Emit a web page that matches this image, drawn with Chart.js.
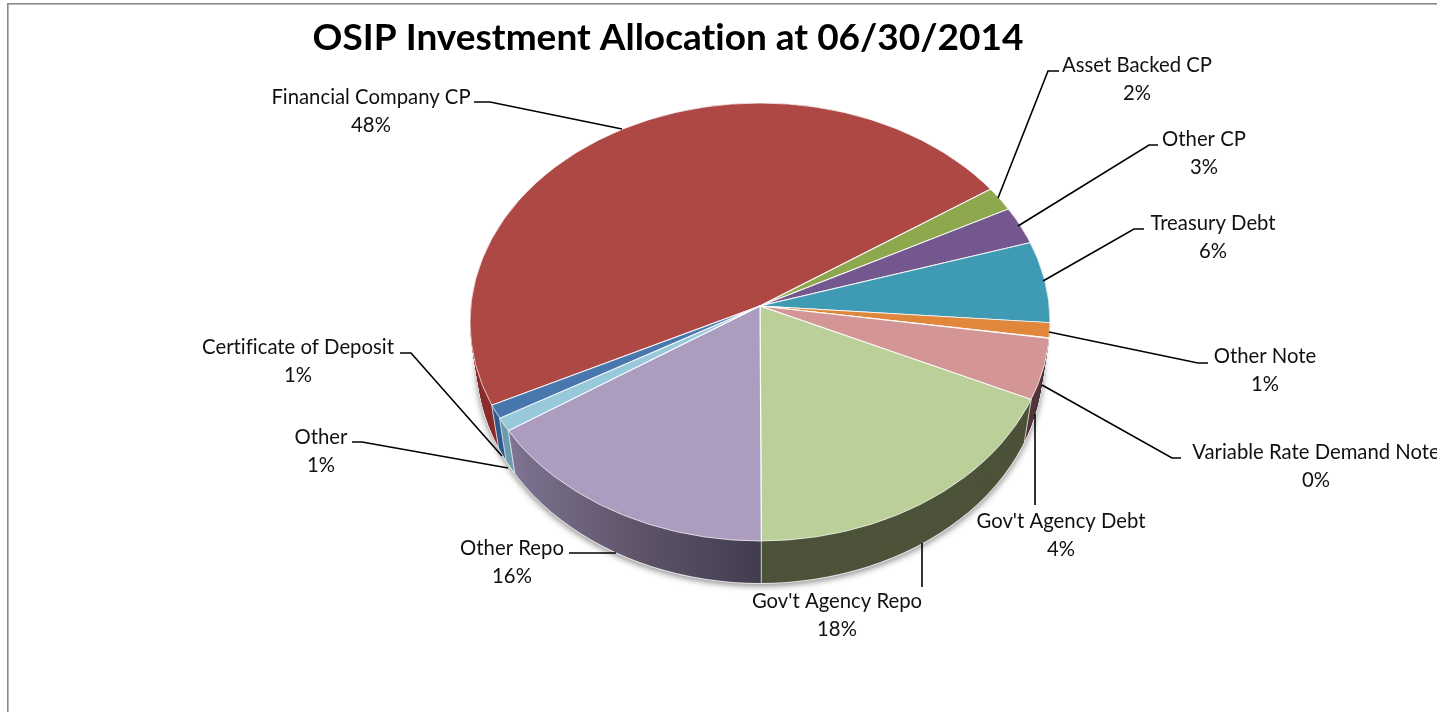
<!DOCTYPE html>
<html>
<head>
<meta charset="utf-8">
<style>html,body{margin:0;padding:0;background:#fff;overflow:hidden}canvas{display:block}</style>
<script src="https://cdn.jsdelivr.net/npm/chart.js@4"></script>
</head>
<body>
<canvas id="c" width="1437" height="712"></canvas>
<script>
const chartTitle = 'OSIP Investment Allocation at 06/30/2014';
const categories = ['Financial Company CP','Asset Backed CP','Other CP','Treasury Debt','Other Note','Variable Rate Demand Note',"Gov't Agency Debt","Gov't Agency Repo",'Other Repo','Other','Certificate of Deposit'];
const shares = [47.8,1.8,2.8,6.0,1.1,0.03,4.47,18.1,15.8,1.0,1.0];

const topColors = ['#ad4845','#8ea84e','#74578e','#3f9ab3','#e0873b','#d39595','#d39595','#bbcf98','#ac9cc0','#97c9da','#4877ae'];
const wallColors = ['#8b2e2d','#5a6b30','#48355a','#1f5565','#7a4a1f','#52373a','#52373a','#4d533a','#5a5068','#6d9dae','#2f5b8f'];

// Layout of the tilted pie on the page
const APEX = {x:760,y:306}, FACE = {x:760,y:322,rx:290,ry:219}, TILT = 219/290, DEPTH = 42, TAPER = 0.025;
// Label anchors and leader lines, same order as categories
const labelPlace = [[371,97],[1137,65],[1204,139],[1213,223],[1265,356],[1316,452],[1061,521],[837,601],[512,548],[321,437],[298,347]];
const leaders = [
  [[474,102],[490,102],[622,129]],
  [[1059,71],[1048,71],[998,198]],
  [[1158,145],[1149,145],[1018,226]],
  [[1144,229],[1134,229],[1043,281]],
  [[1049,332],[1198,363],[1208,363]],
  [[1042,385],[1172,458],[1181,458]],
  [[1035,414],[1035,505]],
  [[922,543],[922,587]],
  [[569,553],[616,553]],
  [[352,442],[362,442],[508,468]],
  [[400,353],[411,353],[502,456]]
];
const FONT = 'Lato, Carlito, sans-serif';

function drawArcs(chart, ctx, k, fills) {
  const meta = chart.getDatasetMeta(0);
  const f = k / DEPTH, sx = 1 - TAPER * f;
  ctx.save();
  ctx.beginPath();
  ctx.ellipse(FACE.x, FACE.y + k, FACE.rx * sx, FACE.ry, 0, 0, Math.PI * 2);
  ctx.clip();
  meta.data.forEach((arc, i) => {
    ctx.save();
    ctx.translate(APEX.x, APEX.y + k);
    ctx.scale(sx, TILT);
    ctx.translate(-arc.x, -arc.y);
    const saved = arc.options;
    const o = Object.create(saved);
    Object.defineProperty(o, 'backgroundColor', {value: fills(i, arc)});
    Object.defineProperty(o, 'borderWidth', {value: k ? 0 : 1.2});
    Object.defineProperty(o, 'borderColor', {value: 'rgba(255,255,255,0.9)'});
    arc.options = o;
    arc.draw(ctx);
    arc.options = saved;
    ctx.restore();
  });
  ctx.restore();
}

function edgePoint(a) {
  const dx = Math.cos(a), dy = Math.sin(a) * TILT, off = APEX.y - FACE.y;
  const A = dx*dx/(FACE.rx*FACE.rx) + dy*dy/(FACE.ry*FACE.ry);
  const B = 2*dy*off/(FACE.ry*FACE.ry);
  const C = off*off/(FACE.ry*FACE.ry) - 1;
  const t = (-B + Math.sqrt(B*B - 4*A*C)) / (2*A);
  return {x: APEX.x + dx*t, y: APEX.y + dy*t};
}

const piePlugin = {
  id: 'tiltedPie',
  afterLayout(chart) {
    chart.titleBlock.left = 0;
    chart.titleBlock.right = 1336;
  },
  beforeDraw(chart) {
    const ctx = chart.ctx;
    ctx.letterSpacing = '0.01px';
    ctx.save();
    ctx.fillStyle = '#fff';
    ctx.fillRect(0, 0, chart.width, chart.height);
    ctx.fillStyle = '#8a8a8a';
    ctx.fillRect(7, 3, 1.6, chart.height);
    ctx.fillRect(7, 3, chart.width, 1.6);
    ctx.restore();
  },
  beforeDatasetsDraw(chart) {
    const ctx = chart.ctx;
    const meta = chart.getDatasetMeta(0);
    // soft shadow under the pie
    ctx.save();
    ctx.shadowColor = 'rgba(0,0,0,0.45)';
    ctx.shadowBlur = 6;
    ctx.shadowOffsetY = 2;
    ctx.fillStyle = '#e4e4e4';
    ctx.beginPath();
    ctx.ellipse(FACE.x, FACE.y + DEPTH, FACE.rx * (1 - TAPER) + 1, FACE.ry + 1, 0, 0, Math.PI * 2);
    ctx.fill();
    ctx.restore();
    // side wall
    const wallFill = i => {
      if (categories[i] !== 'Other Repo') return wallColors[i];
      const a = meta.data[i];
      const lg = ctx.createLinearGradient(a.x - 250, 0, a.x, 0);
      lg.addColorStop(0, '#7e7390');
      lg.addColorStop(0.5, '#5f5469');
      lg.addColorStop(1, '#423c4e');
      return lg;
    };
    for (let k = DEPTH; k >= 1; k--) drawArcs(chart, ctx, k, wallFill);
    // seams between wall segments
    ctx.save();
    ctx.strokeStyle = 'rgba(255,255,255,0.75)';
    ctx.lineWidth = 1;
    meta.data.forEach(arc => {
      const p = edgePoint(arc.startAngle);
      if (Math.sin(arc.startAngle) < 0.35) return;
      ctx.beginPath();
      ctx.moveTo(p.x, p.y);
      ctx.lineTo(FACE.x + (p.x - FACE.x) * (1 - TAPER), p.y + DEPTH);
      ctx.stroke();
    });
    ctx.restore();
    // top face
    drawArcs(chart, ctx, 0, i => topColors[i]);
    ctx.save();
    ctx.strokeStyle = 'rgba(255,255,255,0.7)';
    ctx.lineWidth = 1;
    ctx.beginPath();
    ctx.ellipse(FACE.x, FACE.y, FACE.rx, FACE.ry, 0, 0, Math.PI * 2);
    ctx.stroke();
    ctx.restore();
    return false;
  },
  afterDraw(chart) {
    const ctx = chart.ctx;
    const total = shares.reduce((a, b) => a + b, 0);
    ctx.save();
    ctx.strokeStyle = '#000';
    ctx.lineWidth = 1.6;
    leaders.forEach(path => {
      ctx.beginPath();
      path.forEach((p, i) => i ? ctx.lineTo(p[0], p[1]) : ctx.moveTo(p[0], p[1]));
      ctx.stroke();
    });
    ctx.fillStyle = '#111';
    ctx.font = '20.3px ' + FONT;
    ctx.textAlign = 'center';
    ctx.textBaseline = 'middle';
    categories.forEach((name, i) => {
      const [x, y] = labelPlace[i];
      ctx.fillText(name, x, y);
      ctx.fillText(Math.round(shares[i] / total * 100) + '%', x, y + 28);
    });
    ctx.restore();
  }
};

new Chart(document.getElementById('c'), {
  type: 'pie',
  data: {
    labels: categories,
    datasets: [{ data: shares, backgroundColor: topColors, borderColor: '#fff', borderWidth: 1.2, radius: 340 }]
  },
  options: {
    responsive: false,
    animation: false,
    rotation: 243.9,
    layout: { padding: 0 },
    plugins: {
      legend: { display: false },
      tooltip: { enabled: false },
      title: {
        display: true,
        text: chartTitle,
        color: '#000',
        font: { family: FONT, size: 37, weight: 'bold' },
        padding: { top: 16, bottom: 10 }
      }
    }
  },
  plugins: [piePlugin]
});
</script>
</body>
</html>
